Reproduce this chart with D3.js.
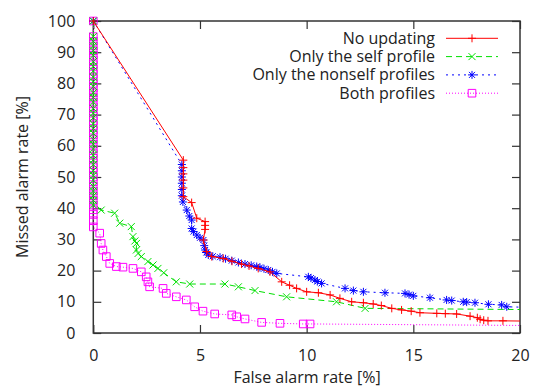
<!DOCTYPE html>
<html>
<head>
<meta charset="utf-8">
<script src="https://cdn.jsdelivr.net/npm/d3@7"></script>
<style>
  body { margin: 0; background: #fff; }
  svg text { font-family: "Open Sans", sans-serif; fill: #222; }
</style>
</head>
<body>
<svg id="chart" width="534" height="387"></svg>
<script>
// series values (false alarm %, missed alarm %)
var noUpdX = [0, 4.22, 4.22, 4.22, 4.22, 4.22, 4.22, 4.61, 4.85, 5.24, 5.24, 5.24, 5.16, 5.31, 5.55, 6.09, 6.5, 6.95, 7.3, 7.73, 8.28, 8.83, 9.2, 9.53, 10.0, 10.55, 11.1, 11.56, 12.11, 12.66, 13.12, 13.5, 13.99, 14.45, 14.9, 15.31, 16.1, 16.5, 17.03, 17.66, 18.0, 18.13, 18.3, 18.5, 19.2, 20.5];
var noUpdY = [100, 55.4, 53, 51, 49, 46.5, 43.7, 41.8, 36.8, 35.7, 34.5, 33.2, 29.8, 26.1, 24.5, 23.9, 23, 22.1, 21.5, 20.7, 19.6, 16.4, 15.3, 14.3, 13.2, 12.9, 12.2, 11.1, 10.0, 9.7, 9.3, 8.8, 7.9, 7.4, 7.0, 6.5, 6.3, 6.2, 6.1, 5.4, 4.9, 4.4, 4.1, 3.9, 3.9, 3.8];

var selfX = [0, 0, 0, 0, 0, 0, 0, 0, 0, 0, 0, 0, 0, 0, 0, 0, 0, 0, 0, 0, 0, 0, 0, 0, 0, 0, 0, 0, 0, 0, 0, 0, 0, 0, 0, 0.37, 1.0, 1.24, 1.78, 1.86, 1.95, 2.02, 2.02, 2.1, 2.25, 2.56, 2.8, 3.03, 3.3, 3.89, 4.52, 6.17, 6.8, 7.58, 9.06, 11.4, 12.74, 20.5];
var selfY = [100, 95, 93.5, 92, 90.5, 89, 87, 85.5, 84, 82, 80.5, 79, 77, 75.5, 74, 72, 70.5, 69, 67, 65.5, 64, 62, 60.5, 59, 57, 55.5, 54, 52, 50.5, 49, 47, 45.5, 44, 42.5, 41, 39.4, 38.4, 35.2, 34.1, 30.9, 29.5, 28.7, 26.6, 25.5, 24.5, 22.9, 21.8, 20.7, 19.3, 16.4, 15.7, 15.7, 14.8, 13.6, 11.6, 10.0, 7.9, 7.5];

var nonselfX = [0, 4.15, 4.15, 4.15, 4.15, 4.15, 4.15, 4.2, 4.38, 4.5, 4.61, 4.61, 4.7, 4.85, 5.0, 5.16, 5.2, 5.24, 5.3, 5.39, 5.6, 5.94, 6.2, 6.49, 6.8, 7.11, 7.4, 7.66, 7.81, 8.0, 8.2, 8.4, 8.6, 10.08, 10.2, 10.39, 10.5, 10.7, 11.8, 12.19, 12.66, 13.67, 14.61, 14.8, 15.0, 15.78, 16.56, 16.8, 17.34, 17.5, 17.89, 18.52, 19.14, 19.38, 20.5];
var nonselfY = [100, 54, 52, 50, 48, 46, 44, 42, 39.4, 37.5, 36.2, 33.5, 32.5, 31.4, 30.5, 29.8, 28, 26.6, 25.8, 25.0, 24.6, 24.3, 23.8, 23.2, 22.6, 22.1, 21.7, 21.3, 21.0, 20.6, 20.2, 19.6, 19.1, 18.0, 17.6, 17.0, 16.5, 15.9, 14.3, 13.6, 13.2, 12.9, 12.7, 12.3, 11.9, 11.3, 10.6, 10.4, 10.0, 9.9, 9.7, 9.2, 9.0, 8.4, 8.2];

var bothX = [0, 0, 0, 0, 0, 0, 0, 0, 0, 0, 0, 0, 0, 0, 0, 0, 0, 0, 0, 0, 0, 0, 0, 0, 0, 0, 0, 0, 0, 0, 0, 0, 0, 0, 0, 0, 0, 0, 0, 0, 0, 0, 0.3, 0.37, 0.45, 0.61, 0.77, 1.08, 1.39, 1.86, 2.25, 2.48, 2.56, 2.64, 3.27, 3.42, 3.89, 4.36, 4.75, 5.14, 5.69, 6.49, 6.72, 7.11, 7.89, 8.75, 9.84, 10.16, 20.5];
var bothY = [100, 95, 93.5, 92, 90.5, 89, 87.5, 86, 84.5, 83, 81.5, 80, 78.5, 77, 75.5, 74, 72.5, 71, 69.5, 68, 66.5, 65, 63.5, 62, 60.5, 59, 57.5, 56, 54.5, 53, 51.5, 50, 48.5, 47, 45.5, 44, 42.5, 41, 39.5, 38, 36, 34, 32, 28.7, 26.6, 24.5, 22.3, 21.3, 21.1, 20.7, 19.6, 18.0, 16.4, 14.8, 14.3, 12.7, 11.6, 10.6, 8.4, 7.0, 6.1, 5.8, 5.2, 4.5, 3.4, 3.1, 2.9, 2.9, 2.4];

var seriesNames = ['No updating', 'Only the self profile', 'Only the nonself profiles', 'Both profiles'];
var xTicks = [0, 5, 10, 15, 20];
var yTicks = [0, 10, 20, 30, 40, 50, 60, 70, 80, 90, 100];

(function() {
  var plotL = 93.3, plotR = 520, plotT = 21, plotB = 333;
  var fontSize = 16;

  var x = d3.scaleLinear().domain([0, 20]).range([plotL, plotR]);
  var y = d3.scaleLinear().domain([0, 100]).range([plotB, plotT]);

  // marker shapes, gnuplot style
  var shapes = {
    plus: "M-4,0H4M0,-4V4",
    cross: "M-3.5,-3.5L3.5,3.5M-3.5,3.5L3.5,-3.5",
    star: "M-4,0H4M0,-4V4M-3,-3L3,3M-3,3L3,-3",
    square: "M-3.8,-3.8H3.8V3.8H-3.8Z"
  };

  var series = [
    {name: seriesNames[0], xs: noUpdX, ys: noUpdY, color: '#ff0000', dash: null, shape: 'plus'},
    {name: seriesNames[1], xs: selfX, ys: selfY, color: '#00e000', dash: '6,4', shape: 'cross'},
    {name: seriesNames[2], xs: nonselfX, ys: nonselfY, color: '#0000ff', dash: '2,4', shape: 'star'},
    {name: seriesNames[3], xs: bothX, ys: bothY, color: '#ff00ff', dash: '1,2', shape: 'square'}
  ];

  var svg = d3.select('#chart');

  // lines are clipped to the plot box, markers are only dropped when out of range
  svg.append('defs').append('clipPath')
    .attr('id', 'plot-clip')
    .append('rect')
    .attr('x', plotL).attr('y', plotT)
    .attr('width', plotR - plotL).attr('height', plotB - plotT);

  // axes first (gnuplot draws the border under the data): ticks point inward on all four sides
  var tickLen = 8;
  var bottomAxis = d3.axisBottom(x).tickValues(xTicks).tickSizeInner(-tickLen).tickSizeOuter(0).tickPadding(tickLen + 9);
  var leftAxis = d3.axisLeft(y).tickValues(yTicks).tickSizeInner(-tickLen).tickSizeOuter(0).tickPadding(tickLen + 10);

  svg.append('g').attr('transform', 'translate(0,' + plotB + ')').call(bottomAxis);
  svg.append('g').attr('transform', 'translate(' + plotL + ',0)').call(leftAxis);
  svg.append('g').attr('transform', 'translate(0,' + plotT + ')')
    .call(d3.axisTop(x).tickValues(xTicks).tickSizeInner(-tickLen).tickSizeOuter(0).tickFormat(''));
  svg.append('g').attr('transform', 'translate(' + plotR + ',0)')
    .call(d3.axisRight(y).tickValues(yTicks).tickSizeInner(-tickLen).tickSizeOuter(0).tickFormat(''));

  svg.selectAll('.domain').remove();
  svg.selectAll('.tick line').attr('stroke', '#333').attr('stroke-width', 1.2);
  svg.selectAll('.tick text').attr('font-size', fontSize).attr('fill', '#222').attr('font-family', '"Open Sans", sans-serif');

  svg.append('rect')
    .attr('x', plotL).attr('y', plotT)
    .attr('width', plotR - plotL).attr('height', plotB - plotT)
    .attr('fill', 'none')
    .attr('stroke', '#333')
    .attr('stroke-width', 1.5);

  var line = d3.line()
    .x(function(d) { return x(d[0]); })
    .y(function(d) { return y(d[1]); });

  // draw in reverse so red sits on top like the original
  series.slice().reverse().forEach(function(s) {
    var pts = s.xs.map(function(v, i) { return [v, s.ys[i]]; });
    var g = svg.append('g');
    g.append('path')
      .datum(pts)
      .attr('clip-path', 'url(#plot-clip)')
      .attr('d', line)
      .attr('fill', 'none')
      .attr('stroke', s.color)
      .attr('stroke-width', 1)
      .attr('stroke-dasharray', s.dash);
    g.selectAll(null)
      .data(pts.filter(function(d) { return d[0] <= 20; }))
      .enter().append('path')
      .attr('transform', function(d) { return 'translate(' + x(d[0]) + ',' + y(d[1]) + ')'; })
      .attr('d', shapes[s.shape])
      .attr('fill', 'none')
      .attr('stroke', s.color)
      .attr('stroke-width', 1);
  });

  // axis titles
  svg.append('text')
    .attr('x', 307)
    .attr('y', 383)
    .attr('text-anchor', 'middle')
    .attr('font-size', fontSize)
    .text('False alarm rate [%]');

  svg.append('text')
    .attr('transform', 'translate(28,' + ((plotT + plotB) / 2) + ') rotate(-90)')
    .attr('text-anchor', 'middle')
    .attr('font-size', fontSize)
    .text('Missed alarm rate [%]');

  // legend
  var legend = svg.append('g');
  series.forEach(function(s, i) {
    var ly = 38.3 + i * 18.3;
    legend.append('text')
      .attr('x', 435)
      .attr('y', ly + 5.5)
      .attr('text-anchor', 'end')
      .attr('font-size', fontSize)
      .text(s.name);
    legend.append('line')
      .attr('x1', 446).attr('x2', 498)
      .attr('y1', ly).attr('y2', ly)
      .attr('stroke', s.color)
      .attr('stroke-width', 1)
      .attr('stroke-dasharray', s.dash);
    legend.append('path')
      .attr('transform', 'translate(472,' + ly + ')')
      .attr('d', shapes[s.shape])
      .attr('fill', 'none')
      .attr('stroke', s.color)
      .attr('stroke-width', 1);
  });
})();
</script>
</body>
</html>
